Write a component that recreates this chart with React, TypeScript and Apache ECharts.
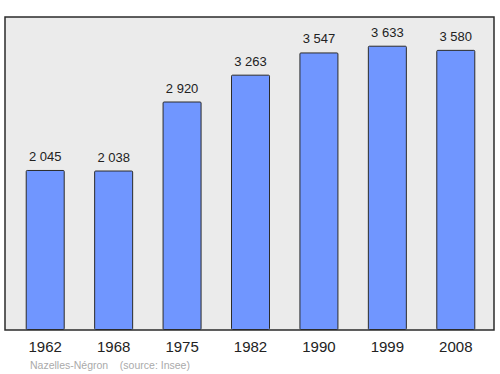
import React, { useEffect, useRef } from "react";
import * as echarts from "echarts";

const years = ["1962", "1968", "1975", "1982", "1990", "1999", "2008"];
const population = [2045, 2038, 2920, 3263, 3547, 3633, 3580];
const footer = "Nazelles-Négron    (source: Insee)";

const fmt = (v: number) => {
  const s = String(v);
  return s.length > 3 ? s.slice(0, s.length - 3) + " " + s.slice(-3) : s;
};

export default function App() {
  const ref = useRef<HTMLDivElement>(null);
  useEffect(() => {
    if (!ref.current) return;
    const chart = echarts.init(ref.current, null, { renderer: "svg" });
    chart.setOption({
      animation: false,
      textStyle: { fontFamily: "Liberation Sans, Arial, sans-serif" },
      graphic: [
        {
          type: "rect",
          z: 0,
          shape: { x: 5, y: 17, width: 489, height: 313 },
          style: { fill: "#ebebeb", stroke: "#2b2b2b", lineWidth: 1.5 },
        },
        {
          type: "text",
          left: 30,
          top: 359,
          style: {
            text: footer,
            fill: "#aaaaaa",
            fontSize: 10.5,
            fontFamily: "Liberation Sans, Arial, sans-serif",
          },
        },
      ],
      grid: { left: 11, right: 10, top: 17, bottom: 44 },
      xAxis: {
        type: "category",
        data: years,
        axisLine: { show: false },
        axisTick: { show: false },
        axisLabel: {
          color: "#222",
          fontSize: 15,
          margin: 9,
          fontFamily: "Liberation Sans, Arial, sans-serif",
        },
      },
      yAxis: {
        type: "value",
        min: 0,
        max: 4000,
        show: false,
        splitLine: { show: false },
      },
      series: [
        {
          type: "bar",
          data: population,
          barWidth: 39,
          z: 2,
          itemStyle: { color: "#7096ff", borderColor: "#2b2b2b", borderWidth: 1, borderRadius: 1 },
          label: {
            show: true,
            position: "top",
            distance: 7,
            color: "#222",
            fontSize: 13,
            fontFamily: "Liberation Sans, Arial, sans-serif",
            formatter: (p: any) => fmt(p.value),
          },
        },
      ],
    });
    return () => chart.dispose();
  }, []);
  return <div ref={ref} style={{ width: 500, height: 374, position: "absolute", left: 0, top: 0 }} />;
}
